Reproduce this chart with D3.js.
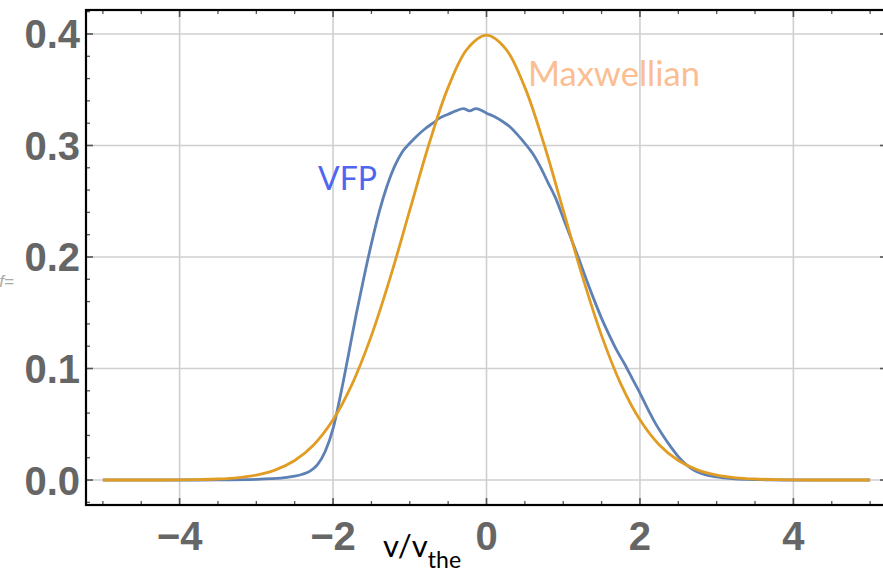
<!DOCTYPE html>
<html>
<head>
<meta charset="utf-8">
<script src="https://cdn.jsdelivr.net/npm/d3@7"></script>
<style>
  html, body { margin: 0; padding: 0; background: #fff; }
  svg { display: block; }
</style>
</head>
<body>
<svg id="chart" width="883" height="573"></svg>
<script>
// ---- Data ----
const maxwellV = [-5, -4.75, -4.5, -4.25, -4, -3.75, -3.5, -3.25, -3, -2.75, -2.5, -2.25, -2, -1.75, -1.5, -1.25, -1, -0.75, -0.5, -0.25, 0,
                  0.25, 0.5, 0.75, 1, 1.25, 1.5, 1.75, 2, 2.25, 2.5, 2.75, 3, 3.25, 3.5, 3.75, 4, 4.25, 4.5, 4.75, 5];
const maxwellF = [0, 0, 0, 0, 0.0001, 0.0004, 0.0009, 0.0020, 0.0044, 0.0091, 0.0175, 0.0317, 0.0540, 0.0863, 0.1295, 0.1826, 0.2420, 0.3011, 0.3521, 0.3867, 0.3989,
                  0.3867, 0.3521, 0.3011, 0.2420, 0.1826, 0.1295, 0.0863, 0.0540, 0.0317, 0.0175, 0.0091, 0.0044, 0.0020, 0.0009, 0.0004, 0.0001, 0, 0, 0, 0];

const vfpV = [-5, -4, -3.5, -3, -2.8, -2.6, -2.5, -2.4, -2.3, -2.2, -2.1, -2.0, -1.9, -1.8, -1.7, -1.6, -1.5, -1.4, -1.3, -1.2, -1.1, -1.0,
              -0.9, -0.8, -0.7, -0.6, -0.5, -0.4, -0.3, -0.22, -0.14, -0.05, 0, 0.1, 0.2, 0.3, 0.4, 0.5, 0.6, 0.7, 0.8, 0.9, 1.0, 1.1, 1.2,
              1.3, 1.4, 1.5, 1.6, 1.7, 1.8, 1.9, 2.0, 2.1, 2.2, 2.3, 2.4, 2.5, 2.6, 2.7, 2.8, 2.9, 3.0, 3.2, 3.4, 3.7, 4, 5];
const vfpF = [0, 0, 0.0001, 0.0006, 0.0012, 0.0024, 0.0035, 0.0052, 0.008, 0.014, 0.026, 0.046, 0.077, 0.112, 0.148, 0.181, 0.212, 0.240, 0.263, 0.281, 0.294, 0.302,
              0.309, 0.315, 0.320, 0.325, 0.328, 0.331, 0.333, 0.331, 0.333, 0.331, 0.329, 0.326, 0.322, 0.317, 0.310, 0.302, 0.293, 0.281, 0.267, 0.253, 0.235, 0.217, 0.199,
              0.180, 0.162, 0.145, 0.130, 0.116, 0.104, 0.091, 0.078, 0.064, 0.051, 0.040, 0.030, 0.021, 0.014, 0.009, 0.006, 0.004, 0.0028, 0.0013, 0.0006, 0.0002, 0, 0];

const xTicks = [-4, -2, 0, 2, 4];
const xTickLabels = ["\u22124", "\u22122", "0", "2", "4"];
const yTicks = [0, 0.1, 0.2, 0.3, 0.4];
const yTickLabels = ["0.0", "0.1", "0.2", "0.3", "0.4"];
const seriesNames = ["VFP", "Maxwellian"];

// ---- Drawing ----
const svg = d3.select("#chart");
const x = d3.scaleLinear().domain([-5.22, 5.22]).range([86, 887]);
const y = d3.scaleLinear().domain([-0.0224, 0.4215]).range([505, 10]);
const [x0, x1] = x.range();
const [y0, y1] = y.range();

const blue = "#5E81B5", orange = "#E19C24";

// grid
svg.append("g").selectAll("line").data(xTicks).join("line")
  .attr("x1", d => x(d)).attr("x2", d => x(d)).attr("y1", y1).attr("y2", y0)
  .attr("stroke", "#cfcfcf").attr("stroke-width", 1.6);
svg.append("g").selectAll("line").data(yTicks).join("line")
  .attr("x1", x0).attr("x2", x1).attr("y1", d => y(d)).attr("y2", d => y(d))
  .attr("stroke", "#cfcfcf").attr("stroke-width", 1.6);

// clip
svg.append("clipPath").attr("id", "clip").append("rect")
  .attr("x", x0).attr("y", y1).attr("width", x1 - x0).attr("height", y0 - y1);

const line = d3.line().x(d => x(d[0])).y(d => y(d[1])).curve(d3.curveMonotoneX);
const plot = svg.append("g").attr("clip-path", "url(#clip)");
plot.append("path").datum(vfpV.map((v, i) => [v, vfpF[i]]))
  .attr("d", line).attr("fill", "none").attr("stroke", blue).attr("stroke-width", 2.8).attr("stroke-linejoin", "round");
plot.append("path").datum(maxwellV.map((v, i) => [v, maxwellF[i]]))
  .attr("d", d3.line().x(d => x(d[0])).y(d => y(d[1])).curve(d3.curveCatmullRom.alpha(0.5)))
  .attr("fill", "none").attr("stroke", orange).attr("stroke-width", 2.8).attr("stroke-linejoin", "round");

// ticks (all four sides, pointing inward)
const xMinor = d3.range(-5, 5.01, 0.5).filter(v => !xTicks.some(t => Math.abs(t - v) < 1e-6));
const yMinor = d3.range(-0.02, 0.421, 0.02).filter(v => !yTicks.some(t => Math.abs(t - v) < 1e-6));
const tickG = svg.append("g").attr("stroke", "#555");
function xt(vals, len, w) {
  tickG.append("g").selectAll("line").data(vals).join("line")
    .attr("x1", d => x(d)).attr("x2", d => x(d)).attr("y1", y0).attr("y2", y0 - len).attr("stroke-width", w);
  tickG.append("g").selectAll("line").data(vals).join("line")
    .attr("x1", d => x(d)).attr("x2", d => x(d)).attr("y1", y1).attr("y2", y1 + len).attr("stroke-width", w);
}
function yt(vals, len, w) {
  tickG.append("g").selectAll("line").data(vals).join("line")
    .attr("x1", x0).attr("x2", x0 + len).attr("y1", d => y(d)).attr("y2", d => y(d)).attr("stroke-width", w);
  tickG.append("g").selectAll("line").data(vals).join("line")
    .attr("x1", x1).attr("x2", x1 - len).attr("y1", d => y(d)).attr("y2", d => y(d)).attr("stroke-width", w);
}
xt(xTicks, 7, 1.6); xt(xMinor, 4, 1.3);
yt(yTicks, 7, 1.6); yt(yMinor, 4, 1.3);

// frame
svg.append("rect").attr("x", x0).attr("y", y1).attr("width", x1 - x0).attr("height", y0 - y1)
  .attr("fill", "none").attr("stroke", "#000").attr("stroke-width", 2.2);

// tick labels
const lblFont = "'Liberation Sans', Arial, sans-serif";
svg.append("g").selectAll("text").data(xTicks).join("text")
  .attr("x", d => x(d)).attr("y", 550).attr("text-anchor", "middle")
  .attr("font-family", lblFont).attr("font-weight", "bold").attr("font-size", 40).attr("fill", "#666")
  .text((d, i) => xTickLabels[i]);
svg.append("g").selectAll("text").data(yTicks).join("text")
  .attr("x", 80).attr("y", d => y(d) + 14.5).attr("text-anchor", "end")
  .attr("font-family", lblFont).attr("font-weight", "bold").attr("font-size", 40).attr("fill", "#666")
  .text((d, i) => yTickLabels[i]);

// axis label
const axl = svg.append("text").attr("x", 383).attr("y", 557)
  .attr("font-family", "Lato, 'Open Sans', sans-serif").attr("font-size", 31).attr("fill", "#000");
axl.append("tspan").text("v/v");
axl.append("tspan").attr("dy", 11).attr("font-size", 23).text("the");

// stray clipped y label
svg.append("text").attr("x", 14).attr("y", 287).attr("text-anchor", "end")
  .attr("font-family", "'Liberation Sans', sans-serif").attr("font-style", "italic").attr("font-size", 17)
  .attr("fill", "#aaa").text("f=");

// series labels
svg.append("text").attr("x", 318).attr("y", 190)
  .attr("font-family", "Lato, 'Open Sans', sans-serif").attr("font-size", 32).attr("fill", "#4F66F0")
  .text(seriesNames[0]);
svg.append("text").attr("x", 528).attr("y", 86)
  .attr("font-family", "Lato, 'Open Sans', sans-serif").attr("font-size", 34.5).attr("fill", "#FBBE92")
  .text(seriesNames[1]);
</script>
</body>
</html>
